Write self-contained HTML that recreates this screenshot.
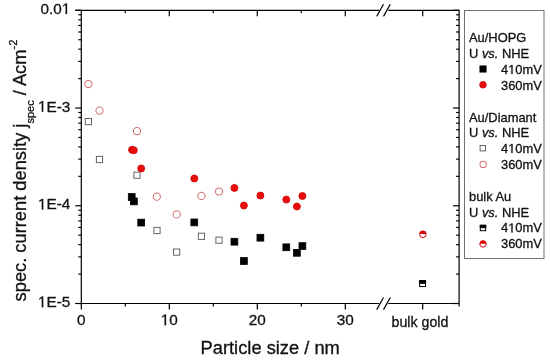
<!DOCTYPE html>
<html><head><meta charset="utf-8"><style>
html,body{margin:0;padding:0;background:#fff;}
svg{display:block;will-change:transform;}
text{font-family:"Liberation Sans",sans-serif;fill:#111;stroke:#111;stroke-width:0.3px;}
.g1{fill:#111;stroke:#111;stroke-width:0.3px;vector-effect:non-scaling-stroke;}
</style></head><body>
<svg width="550" height="361" viewBox="0 0 550 361">
<line x1="81.3" y1="10.3" x2="81.3" y2="309.5" stroke="#000" stroke-width="1.2"/>
<line x1="459.1" y1="9.700000000000001" x2="459.1" y2="306.5" stroke="#000" stroke-width="1.2"/>
<line x1="81.3" y1="10.3" x2="379.2" y2="10.3" stroke="#000" stroke-width="1.2"/>
<line x1="388.3" y1="10.3" x2="459.1" y2="10.3" stroke="#000" stroke-width="1.2"/>
<line x1="376.7" y1="16.4" x2="383.5" y2="4.300000000000001" stroke="#000" stroke-width="1.2"/>
<line x1="383.5" y1="16.4" x2="390.3" y2="4.300000000000001" stroke="#000" stroke-width="1.2"/>
<line x1="75.3" y1="303.5" x2="379.2" y2="303.5" stroke="#000" stroke-width="1.2"/>
<line x1="388.3" y1="303.5" x2="459.1" y2="303.5" stroke="#000" stroke-width="1.2"/>
<line x1="376.7" y1="309.6" x2="383.5" y2="297.5" stroke="#000" stroke-width="1.2"/>
<line x1="383.5" y1="309.6" x2="390.3" y2="297.5" stroke="#000" stroke-width="1.2"/>
<line x1="75.3" y1="303.5" x2="81.3" y2="303.5" stroke="#000" stroke-width="1.2"/>
<line x1="453.1" y1="303.5" x2="459.1" y2="303.5" stroke="#000" stroke-width="1.2"/>
<line x1="78.3" y1="274.0793350904402" x2="81.3" y2="274.0793350904402" stroke="#000" stroke-width="1.2"/>
<line x1="456.1" y1="274.0793350904402" x2="459.1" y2="274.0793350904402" stroke="#000" stroke-width="1.2"/>
<line x1="78.3" y1="256.86934937206496" x2="81.3" y2="256.86934937206496" stroke="#000" stroke-width="1.2"/>
<line x1="456.1" y1="256.86934937206496" x2="459.1" y2="256.86934937206496" stroke="#000" stroke-width="1.2"/>
<line x1="78.3" y1="244.65867018088048" x2="81.3" y2="244.65867018088048" stroke="#000" stroke-width="1.2"/>
<line x1="456.1" y1="244.65867018088048" x2="459.1" y2="244.65867018088048" stroke="#000" stroke-width="1.2"/>
<line x1="78.3" y1="235.18733157622646" x2="81.3" y2="235.18733157622646" stroke="#000" stroke-width="1.2"/>
<line x1="456.1" y1="235.18733157622646" x2="459.1" y2="235.18733157622646" stroke="#000" stroke-width="1.2"/>
<line x1="78.3" y1="227.4486844625052" x2="81.3" y2="227.4486844625052" stroke="#000" stroke-width="1.2"/>
<line x1="456.1" y1="227.4486844625052" x2="459.1" y2="227.4486844625052" stroke="#000" stroke-width="1.2"/>
<line x1="78.3" y1="220.90575155593996" x2="81.3" y2="220.90575155593996" stroke="#000" stroke-width="1.2"/>
<line x1="456.1" y1="220.90575155593996" x2="459.1" y2="220.90575155593996" stroke="#000" stroke-width="1.2"/>
<line x1="78.3" y1="215.2380052713207" x2="81.3" y2="215.2380052713207" stroke="#000" stroke-width="1.2"/>
<line x1="456.1" y1="215.2380052713207" x2="459.1" y2="215.2380052713207" stroke="#000" stroke-width="1.2"/>
<line x1="78.3" y1="210.23869874412998" x2="81.3" y2="210.23869874412998" stroke="#000" stroke-width="1.2"/>
<line x1="456.1" y1="210.23869874412998" x2="459.1" y2="210.23869874412998" stroke="#000" stroke-width="1.2"/>
<line x1="75.3" y1="205.76666666666668" x2="81.3" y2="205.76666666666668" stroke="#000" stroke-width="1.2"/>
<line x1="453.1" y1="205.76666666666668" x2="459.1" y2="205.76666666666668" stroke="#000" stroke-width="1.2"/>
<line x1="78.3" y1="176.3460017571069" x2="81.3" y2="176.3460017571069" stroke="#000" stroke-width="1.2"/>
<line x1="456.1" y1="176.3460017571069" x2="459.1" y2="176.3460017571069" stroke="#000" stroke-width="1.2"/>
<line x1="78.3" y1="159.13601603873167" x2="81.3" y2="159.13601603873167" stroke="#000" stroke-width="1.2"/>
<line x1="456.1" y1="159.13601603873167" x2="459.1" y2="159.13601603873167" stroke="#000" stroke-width="1.2"/>
<line x1="78.3" y1="146.92533684754716" x2="81.3" y2="146.92533684754716" stroke="#000" stroke-width="1.2"/>
<line x1="456.1" y1="146.92533684754716" x2="459.1" y2="146.92533684754716" stroke="#000" stroke-width="1.2"/>
<line x1="78.3" y1="137.4539982428931" x2="81.3" y2="137.4539982428931" stroke="#000" stroke-width="1.2"/>
<line x1="456.1" y1="137.4539982428931" x2="459.1" y2="137.4539982428931" stroke="#000" stroke-width="1.2"/>
<line x1="78.3" y1="129.7153511291719" x2="81.3" y2="129.7153511291719" stroke="#000" stroke-width="1.2"/>
<line x1="456.1" y1="129.7153511291719" x2="459.1" y2="129.7153511291719" stroke="#000" stroke-width="1.2"/>
<line x1="78.3" y1="123.17241822260662" x2="81.3" y2="123.17241822260662" stroke="#000" stroke-width="1.2"/>
<line x1="456.1" y1="123.17241822260662" x2="459.1" y2="123.17241822260662" stroke="#000" stroke-width="1.2"/>
<line x1="78.3" y1="117.50467193798737" x2="81.3" y2="117.50467193798737" stroke="#000" stroke-width="1.2"/>
<line x1="456.1" y1="117.50467193798737" x2="459.1" y2="117.50467193798737" stroke="#000" stroke-width="1.2"/>
<line x1="78.3" y1="112.50536541079666" x2="81.3" y2="112.50536541079666" stroke="#000" stroke-width="1.2"/>
<line x1="456.1" y1="112.50536541079666" x2="459.1" y2="112.50536541079666" stroke="#000" stroke-width="1.2"/>
<line x1="75.3" y1="108.03333333333333" x2="81.3" y2="108.03333333333333" stroke="#000" stroke-width="1.2"/>
<line x1="453.1" y1="108.03333333333333" x2="459.1" y2="108.03333333333333" stroke="#000" stroke-width="1.2"/>
<line x1="78.3" y1="78.61266842377357" x2="81.3" y2="78.61266842377357" stroke="#000" stroke-width="1.2"/>
<line x1="456.1" y1="78.61266842377357" x2="459.1" y2="78.61266842377357" stroke="#000" stroke-width="1.2"/>
<line x1="78.3" y1="61.402682705398306" x2="81.3" y2="61.402682705398306" stroke="#000" stroke-width="1.2"/>
<line x1="456.1" y1="61.402682705398306" x2="459.1" y2="61.402682705398306" stroke="#000" stroke-width="1.2"/>
<line x1="78.3" y1="49.192003514213795" x2="81.3" y2="49.192003514213795" stroke="#000" stroke-width="1.2"/>
<line x1="456.1" y1="49.192003514213795" x2="459.1" y2="49.192003514213795" stroke="#000" stroke-width="1.2"/>
<line x1="78.3" y1="39.72066490955977" x2="81.3" y2="39.72066490955977" stroke="#000" stroke-width="1.2"/>
<line x1="456.1" y1="39.72066490955977" x2="459.1" y2="39.72066490955977" stroke="#000" stroke-width="1.2"/>
<line x1="78.3" y1="31.98201779583854" x2="81.3" y2="31.98201779583854" stroke="#000" stroke-width="1.2"/>
<line x1="456.1" y1="31.98201779583854" x2="459.1" y2="31.98201779583854" stroke="#000" stroke-width="1.2"/>
<line x1="78.3" y1="25.43908488927329" x2="81.3" y2="25.43908488927329" stroke="#000" stroke-width="1.2"/>
<line x1="456.1" y1="25.43908488927329" x2="459.1" y2="25.43908488927329" stroke="#000" stroke-width="1.2"/>
<line x1="78.3" y1="19.77133860465403" x2="81.3" y2="19.77133860465403" stroke="#000" stroke-width="1.2"/>
<line x1="456.1" y1="19.77133860465403" x2="459.1" y2="19.77133860465403" stroke="#000" stroke-width="1.2"/>
<line x1="78.3" y1="14.772032077463328" x2="81.3" y2="14.772032077463328" stroke="#000" stroke-width="1.2"/>
<line x1="456.1" y1="14.772032077463328" x2="459.1" y2="14.772032077463328" stroke="#000" stroke-width="1.2"/>
<line x1="75.3" y1="10.3" x2="81.3" y2="10.3" stroke="#000" stroke-width="1.2"/>
<line x1="453.1" y1="10.3" x2="459.1" y2="10.3" stroke="#000" stroke-width="1.2"/>
<line x1="78.3" y1="-19.120664909559768" x2="81.3" y2="-19.120664909559768" stroke="#000" stroke-width="1.2"/>
<line x1="456.1" y1="-19.120664909559768" x2="459.1" y2="-19.120664909559768" stroke="#000" stroke-width="1.2"/>
<line x1="78.3" y1="-36.330650627935" x2="81.3" y2="-36.330650627935" stroke="#000" stroke-width="1.2"/>
<line x1="456.1" y1="-36.330650627935" x2="459.1" y2="-36.330650627935" stroke="#000" stroke-width="1.2"/>
<line x1="78.3" y1="-48.54132981911954" x2="81.3" y2="-48.54132981911954" stroke="#000" stroke-width="1.2"/>
<line x1="456.1" y1="-48.54132981911954" x2="459.1" y2="-48.54132981911954" stroke="#000" stroke-width="1.2"/>
<line x1="78.3" y1="-58.012668423773576" x2="81.3" y2="-58.012668423773576" stroke="#000" stroke-width="1.2"/>
<line x1="456.1" y1="-58.012668423773576" x2="459.1" y2="-58.012668423773576" stroke="#000" stroke-width="1.2"/>
<line x1="78.3" y1="-65.75131553749478" x2="81.3" y2="-65.75131553749478" stroke="#000" stroke-width="1.2"/>
<line x1="456.1" y1="-65.75131553749478" x2="459.1" y2="-65.75131553749478" stroke="#000" stroke-width="1.2"/>
<line x1="78.3" y1="-72.29424844406005" x2="81.3" y2="-72.29424844406005" stroke="#000" stroke-width="1.2"/>
<line x1="456.1" y1="-72.29424844406005" x2="459.1" y2="-72.29424844406005" stroke="#000" stroke-width="1.2"/>
<line x1="78.3" y1="-77.96199472867929" x2="81.3" y2="-77.96199472867929" stroke="#000" stroke-width="1.2"/>
<line x1="456.1" y1="-77.96199472867929" x2="459.1" y2="-77.96199472867929" stroke="#000" stroke-width="1.2"/>
<line x1="78.3" y1="-82.96130125587001" x2="81.3" y2="-82.96130125587001" stroke="#000" stroke-width="1.2"/>
<line x1="456.1" y1="-82.96130125587001" x2="459.1" y2="-82.96130125587001" stroke="#000" stroke-width="1.2"/>
<line x1="75.3" y1="10.3" x2="81.3" y2="10.3" stroke="#000" stroke-width="1.2"/>
<line x1="169.3" y1="303.5" x2="169.3" y2="309.5" stroke="#000" stroke-width="1.2"/>
<line x1="169.3" y1="10.3" x2="169.3" y2="16.3" stroke="#000" stroke-width="1.2"/>
<line x1="257.3" y1="303.5" x2="257.3" y2="309.5" stroke="#000" stroke-width="1.2"/>
<line x1="257.3" y1="10.3" x2="257.3" y2="16.3" stroke="#000" stroke-width="1.2"/>
<line x1="345.3" y1="303.5" x2="345.3" y2="309.5" stroke="#000" stroke-width="1.2"/>
<line x1="345.3" y1="10.3" x2="345.3" y2="16.3" stroke="#000" stroke-width="1.2"/>
<line x1="125.3" y1="303.5" x2="125.3" y2="306.5" stroke="#000" stroke-width="1.2"/>
<line x1="125.3" y1="10.3" x2="125.3" y2="13.3" stroke="#000" stroke-width="1.2"/>
<line x1="213.3" y1="303.5" x2="213.3" y2="306.5" stroke="#000" stroke-width="1.2"/>
<line x1="213.3" y1="10.3" x2="213.3" y2="13.3" stroke="#000" stroke-width="1.2"/>
<line x1="301.3" y1="303.5" x2="301.3" y2="306.5" stroke="#000" stroke-width="1.2"/>
<line x1="301.3" y1="10.3" x2="301.3" y2="13.3" stroke="#000" stroke-width="1.2"/>
<line x1="422.7" y1="303.5" x2="422.7" y2="309.5" stroke="#000" stroke-width="1.2"/>
<line x1="422.7" y1="10.3" x2="422.7" y2="16.3" stroke="#000" stroke-width="1.2"/>
<text x="40.52" y="13.95" font-size="15.3">0.0</text><path class="g1" d="M515,0L515,1237L197,1010L197,1180L530,1409L696,1409L696,0Z" transform="translate(61.79,13.95) scale(0.00747,-0.00747)"/>
<path class="g1" d="M515,0L515,1237L197,1010L197,1180L530,1409L696,1409L696,0Z" transform="translate(37.98,111.68) scale(0.00747,-0.00747)"/><text x="46.49" y="111.68" font-size="15.3">E-3</text>
<path class="g1" d="M515,0L515,1237L197,1010L197,1180L530,1409L696,1409L696,0Z" transform="translate(37.98,209.42) scale(0.00747,-0.00747)"/><text x="46.49" y="209.42" font-size="15.3">E-4</text>
<path class="g1" d="M515,0L515,1237L197,1010L197,1180L530,1409L696,1409L696,0Z" transform="translate(37.98,307.15) scale(0.00747,-0.00747)"/><text x="46.49" y="307.15" font-size="15.3">E-5</text>
<text x="77.05" y="325.15" font-size="15.3">0</text>
<path class="g1" d="M515,0L515,1237L197,1010L197,1180L530,1409L696,1409L696,0Z" transform="translate(160.79,325.15) scale(0.00747,-0.00747)"/><text x="169.30" y="325.15" font-size="15.3">0</text>
<text x="248.79" y="325.15" font-size="15.3">20</text>
<text x="336.79" y="325.15" font-size="15.3">30</text>
<text x="420" y="326.6" text-anchor="middle" font-size="14.2">bulk gold</text>
<text x="200.6" y="354.45" font-size="18.3">Particle size / nm</text>
<text transform="translate(25.5,301.4) rotate(-90)" font-size="18.3">spec. current density j<tspan font-size="11" dy="8">spec</tspan><tspan dy="-8"> / Acm</tspan><tspan font-size="11.3" dy="-9">-2</tspan></text>
<rect x="85.30" y="118.50" width="6.2" height="6.2" fill="#fff" stroke="#666" stroke-width="1"/>
<rect x="96.40" y="156.40" width="6.2" height="6.2" fill="#fff" stroke="#666" stroke-width="1"/>
<rect x="133.90" y="172.10" width="6.2" height="6.2" fill="#fff" stroke="#666" stroke-width="1"/>
<rect x="153.90" y="227.40" width="6.2" height="6.2" fill="#fff" stroke="#666" stroke-width="1"/>
<rect x="173.50" y="249.00" width="6.2" height="6.2" fill="#fff" stroke="#666" stroke-width="1"/>
<rect x="198.30" y="233.20" width="6.2" height="6.2" fill="#fff" stroke="#666" stroke-width="1"/>
<rect x="215.90" y="237.10" width="6.2" height="6.2" fill="#fff" stroke="#666" stroke-width="1"/>
<circle cx="88.4" cy="84.0" r="3.6" fill="#fff" stroke="#d47272" stroke-width="1.05"/>
<circle cx="99.5" cy="110.6" r="3.6" fill="#fff" stroke="#d47272" stroke-width="1.05"/>
<circle cx="137" cy="131" r="3.6" fill="#fff" stroke="#d47272" stroke-width="1.05"/>
<circle cx="156.8" cy="196.7" r="3.6" fill="#fff" stroke="#d47272" stroke-width="1.05"/>
<circle cx="176.7" cy="214.4" r="3.6" fill="#fff" stroke="#d47272" stroke-width="1.05"/>
<circle cx="201.4" cy="195.9" r="3.6" fill="#fff" stroke="#d47272" stroke-width="1.05"/>
<circle cx="219" cy="191.5" r="3.6" fill="#fff" stroke="#d47272" stroke-width="1.05"/>
<rect x="128.30" y="193.60" width="6.8" height="6.8" fill="#000" stroke="#000" stroke-width="0.8"/>
<rect x="130.50" y="198.00" width="6.8" height="6.8" fill="#000" stroke="#000" stroke-width="0.8"/>
<rect x="137.80" y="219.20" width="6.8" height="6.8" fill="#000" stroke="#000" stroke-width="0.8"/>
<rect x="190.90" y="219.00" width="6.8" height="6.8" fill="#000" stroke="#000" stroke-width="0.8"/>
<rect x="231.00" y="238.30" width="6.8" height="6.8" fill="#000" stroke="#000" stroke-width="0.8"/>
<rect x="240.50" y="257.60" width="6.8" height="6.8" fill="#000" stroke="#000" stroke-width="0.8"/>
<rect x="257.00" y="234.30" width="6.8" height="6.8" fill="#000" stroke="#000" stroke-width="0.8"/>
<rect x="282.90" y="243.90" width="6.8" height="6.8" fill="#000" stroke="#000" stroke-width="0.8"/>
<rect x="293.50" y="249.40" width="6.8" height="6.8" fill="#000" stroke="#000" stroke-width="0.8"/>
<rect x="299.00" y="242.70" width="6.8" height="6.8" fill="#000" stroke="#000" stroke-width="0.8"/>
<circle cx="132" cy="149.8" r="3.5" fill="#e80c0c" stroke="#d00000" stroke-width="0.8"/>
<circle cx="133.8" cy="150.2" r="3.5" fill="#e80c0c" stroke="#d00000" stroke-width="0.8"/>
<circle cx="141.2" cy="168.4" r="3.5" fill="#e80c0c" stroke="#d00000" stroke-width="0.8"/>
<circle cx="194.3" cy="178.5" r="3.5" fill="#e80c0c" stroke="#d00000" stroke-width="0.8"/>
<circle cx="234.4" cy="187.9" r="3.5" fill="#e80c0c" stroke="#d00000" stroke-width="0.8"/>
<circle cx="243.9" cy="205.5" r="3.5" fill="#e80c0c" stroke="#d00000" stroke-width="0.8"/>
<circle cx="260.4" cy="195.5" r="3.5" fill="#e80c0c" stroke="#d00000" stroke-width="0.8"/>
<circle cx="286.3" cy="199.6" r="3.5" fill="#e80c0c" stroke="#d00000" stroke-width="0.8"/>
<circle cx="296.9" cy="206.5" r="3.5" fill="#e80c0c" stroke="#d00000" stroke-width="0.8"/>
<circle cx="302.4" cy="196" r="3.5" fill="#e80c0c" stroke="#d00000" stroke-width="0.8"/>
<rect x="419.65" y="280.65" width="5.9" height="5.9" fill="#fff" stroke="#000" stroke-width="1"/>
<rect x="419.65" y="280.65" width="5.9" height="2.65" fill="#000" stroke="#000" stroke-width="1"/>
<circle cx="422.9" cy="234.3" r="3.3" fill="#fff" stroke="#d80000" stroke-width="1"/>
<path d="M419.59999999999997,234.0 A3.3,3.3 0 0 1 426.2,234.0 Z" fill="#d80000" stroke="none"/>
<rect x="464.5" y="10.5" width="79.5" height="248" fill="#fff" stroke="#707070" stroke-width="1"/>
<text x="469" y="41.80" font-size="12.9">Au/HOPG</text>
<text x="469" y="58.00" font-size="12.9">U <tspan font-style="italic">vs.</tspan> NHE</text>
<text x="501.00" y="74.00" font-size="12.9">4</text><path class="g1" d="M515,0L515,1237L197,1010L197,1180L530,1409L696,1409L696,0Z" transform="translate(508.17,74.00) scale(0.00630,-0.00630)"/><text x="515.35" y="74.00" font-size="12.9">0mV</text>
<text x="501" y="89.70" font-size="12.9">360mV</text>
<rect x="479.90" y="65.90" width="6.2" height="6.2" fill="#000" stroke="#000" stroke-width="0.8"/>
<circle cx="483" cy="84.8" r="3.3" fill="#e80c0c" stroke="#d00000" stroke-width="0.8"/>
<text x="469" y="121.60" font-size="12.9">Au/Diamant</text>
<text x="469" y="137.40" font-size="12.9">U <tspan font-style="italic">vs.</tspan> NHE</text>
<text x="501.00" y="152.90" font-size="12.9">4</text><path class="g1" d="M515,0L515,1237L197,1010L197,1180L530,1409L696,1409L696,0Z" transform="translate(508.17,152.90) scale(0.00630,-0.00630)"/><text x="515.35" y="152.90" font-size="12.9">0mV</text>
<text x="501" y="168.70" font-size="12.9">360mV</text>
<rect x="480.10" y="145.50" width="5.4" height="5.4" fill="#fff" stroke="#666" stroke-width="1"/>
<circle cx="483.2" cy="164.4" r="3.2" fill="#fff" stroke="#d47272" stroke-width="1.05"/>
<text x="469" y="200.90" font-size="12.9">bulk Au</text>
<text x="469" y="216.70" font-size="12.9">U <tspan font-style="italic">vs.</tspan> NHE</text>
<text x="501.00" y="232.40" font-size="12.9">4</text><path class="g1" d="M515,0L515,1237L197,1010L197,1180L530,1409L696,1409L696,0Z" transform="translate(508.17,232.40) scale(0.00630,-0.00630)"/><text x="515.35" y="232.40" font-size="12.9">0mV</text>
<text x="501" y="248.20" font-size="12.9">360mV</text>
<rect x="480.30" y="225.30" width="5.4" height="5.4" fill="#fff" stroke="#000" stroke-width="1"/>
<rect x="480.30" y="225.30" width="5.4" height="2.40" fill="#000" stroke="#000" stroke-width="1"/>
<circle cx="483" cy="244" r="3.2" fill="#fff" stroke="#e00000" stroke-width="1"/>
<path d="M479.8,243.7 A3.2,3.2 0 0 1 486.2,243.7 Z" fill="#e00000" stroke="none"/>
</svg>
</body></html>
